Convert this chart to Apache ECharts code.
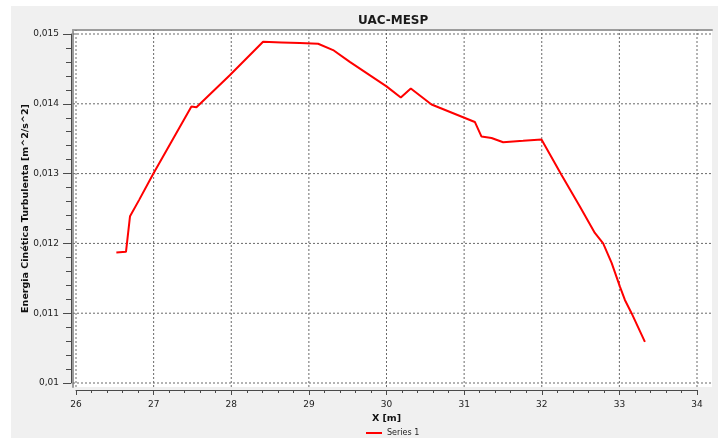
<!DOCTYPE html>
<html>
<head>
<meta charset="utf-8">
<title>UAC-MESP</title>
<script src="https://cdn.jsdelivr.net/npm/echarts@6/dist/echarts.min.js"></script>
<style>
  html, body { margin: 0; padding: 0; background: #ffffff; }
  #wrap { position: relative; width: 718px; height: 438px; overflow: hidden; }
  #panel { position: absolute; left: 11px; top: 6px; right: 0; bottom: 0; background: #f0f0f0; }
  #chart { position: absolute; left: 0; top: 0; width: 718px; height: 438px; }
</style>
</head>
<body>
<div id="wrap">
  <div id="panel"></div>
  <div id="chart"></div>
</div>
<script>
// Turbulent kinetic energy profile along X
const seriesName = 'Series 1';
const xValues = [26.52, 26.644, 26.696, 26.812, 26.992, 27.487, 27.552, 27.981, 28.41, 28.647,
                 28.883, 29.119, 29.312, 29.527, 30.0, 30.184, 30.313, 30.58, 31.138, 31.224,
                 31.353, 31.503, 31.76, 31.997, 32.255, 32.491, 32.684, 32.791, 32.9, 33.007,
                 33.071, 33.157, 33.329];
const kValues = [0.01187, 0.01188, 0.01239, 0.01262, 0.01299, 0.01396, 0.01395, 0.01441, 0.01489, 0.01488,
                 0.01487, 0.01486, 0.01477, 0.01460, 0.01425, 0.01409, 0.01422, 0.01399, 0.01374, 0.01353,
                 0.01351, 0.01345, 0.01347, 0.01349, 0.01298, 0.01253, 0.01215, 0.01200, 0.01172, 0.01138,
                 0.01119, 0.01100, 0.01059];
const xTicks = [26, 27, 28, 29, 30, 31, 32, 33, 34];
const yTicks = [0.010, 0.011, 0.012, 0.013, 0.014, 0.015];
const yTickLabels = ['0,01', '0,011', '0,012', '0,013', '0,014', '0,015'];

// plot box (data range) and the white frame around it, in pixels
const W = 718, H = 438;
const plot = { left: 76, right: 697, top: 34, bottom: 383 };
const frame = { left: 73, right: 712, top: 30, bottom: 387 };

const xMin = xTicks[0], xMax = xTicks[xTicks.length - 1];
const yMin = yTicks[0], yMax = yTicks[yTicks.length - 1];
const xPerPx = (xMax - xMin) / (plot.right - plot.left);
const yPerPx = (yMax - yMin) / (plot.bottom - plot.top);
// value range covered by the white frame
const fx0 = xMin - (plot.left - frame.left) * xPerPx;
const fx1 = xMax + (frame.right - plot.right) * xPerPx;
const fy0 = yMin - (frame.bottom - plot.bottom) * yPerPx;
const fy1 = yMax + (plot.top - frame.top) * yPerPx;

const font = 'DejaVu Sans';
const textColor = '#222222';
const gridLine = { color: '#6a6a6a', width: 1, type: [2, 2] };

// dotted grid lines spanning the whole frame, one per tick
function gridSeries(points) {
  return {
    type: 'line', xAxisIndex: 1, yAxisIndex: 1,
    data: points, symbol: 'none', silent: true, z: 1,
    lineStyle: gridLine, emphasis: { disabled: true }, tooltip: { show: false }
  };
}
const gridLines = xTicks.map(v => gridSeries([[v, fy0], [v, fy1]]))
  .concat(yTicks.map(v => gridSeries([[fx0, v], [fx1, v]])));

const chart = echarts.init(document.getElementById('chart'), null, { renderer: 'canvas' });

chart.setOption({
  backgroundColor: 'transparent',
  animation: false,
  title: {
    text: 'UAC-MESP',
    left: 353,
    top: 10,
    textStyle: { fontFamily: font, fontSize: 12, fontWeight: 'bold', color: '#1a1a1a' }
  },
  legend: {
    data: [seriesName],
    icon: 'rect',
    left: 366,
    top: 429,
    itemWidth: 16,
    itemHeight: 2,
    itemGap: 4,
    padding: 0,
    textStyle: { fontFamily: font, fontSize: 8, color: textColor }
  },
  grid: [
    { left: plot.left, right: W - plot.right, top: plot.top, bottom: H - plot.bottom, show: false },
    { left: frame.left, right: W - frame.right, top: frame.top, bottom: H - frame.bottom,
      show: true, backgroundColor: '#ffffff', borderWidth: 0, z: 0 }
  ],
  xAxis: [
    {
      type: 'value', gridIndex: 0, min: xMin, max: xMax, interval: 1,
      position: 'bottom', offset: 7,
      axisLine: { show: true, onZero: false, lineStyle: { color: '#4a4a4a', width: 1 } },
      axisTick: { show: true, length: 5, lineStyle: { color: '#4a4a4a' } },
      minorTick: { show: true, splitNumber: 5, length: 3, lineStyle: { color: '#4a4a4a' } },
      axisLabel: { margin: 10, fontFamily: font, fontSize: 9, color: textColor },
      splitLine: { show: false },
      name: 'X [m]', nameLocation: 'middle', nameGap: 24, nameMoveOverlap: false,
      nameTextStyle: { fontFamily: font, fontSize: 9.5, fontWeight: 'bold', color: '#111111' }
    },
    {
      type: 'value', gridIndex: 1, min: fx0, max: fx1,
      position: 'top',
      axisLine: { show: true, onZero: false, lineStyle: { color: '#9c9c9c', width: 2 } },
      axisTick: { show: false }, axisLabel: { show: false }, splitLine: { show: false }
    }
  ],
  yAxis: [
    {
      type: 'value', gridIndex: 0, min: yMin, max: yMax, interval: 0.001,
      position: 'left', offset: 5,
      axisLine: { show: true, onZero: false, lineStyle: { color: '#4a4a4a', width: 1 } },
      axisTick: { show: true, length: 8, lineStyle: { color: '#4a4a4a' } },
      minorTick: { show: true, splitNumber: 5, length: 5, lineStyle: { color: '#4a4a4a' } },
      axisLabel: {
        margin: 12, fontFamily: font, fontSize: 9, color: textColor,
        formatter: (v, i) => yTickLabels[i] !== undefined ? yTickLabels[i] : String(v)
      },
      splitLine: { show: false },
      name: 'Energia Cinética Turbulenta [m^2/s^2]', nameLocation: 'middle', nameGap: 40,
      nameMoveOverlap: false,
      nameTextStyle: { fontFamily: font, fontSize: 9.5, fontWeight: 'bold', color: '#111111' }
    },
    {
      type: 'value', gridIndex: 1, min: fy0, max: fy1,
      position: 'left',
      axisLine: { show: true, onZero: false, lineStyle: { color: '#9c9c9c', width: 2 } },
      axisTick: { show: false }, axisLabel: { show: false }, splitLine: { show: false }
    }
  ],
  series: gridLines.concat([
    {
      name: seriesName,
      type: 'line',
      xAxisIndex: 0, yAxisIndex: 0,
      data: xValues.map((x, i) => [x, kValues[i]]),
      symbol: 'none',
      showSymbol: false,
      clip: false,
      z: 3,
      lineStyle: { color: '#ff0000', width: 2 },
      itemStyle: { color: '#ff0000' }
    }
  ])
});
</script>
</body>
</html>
